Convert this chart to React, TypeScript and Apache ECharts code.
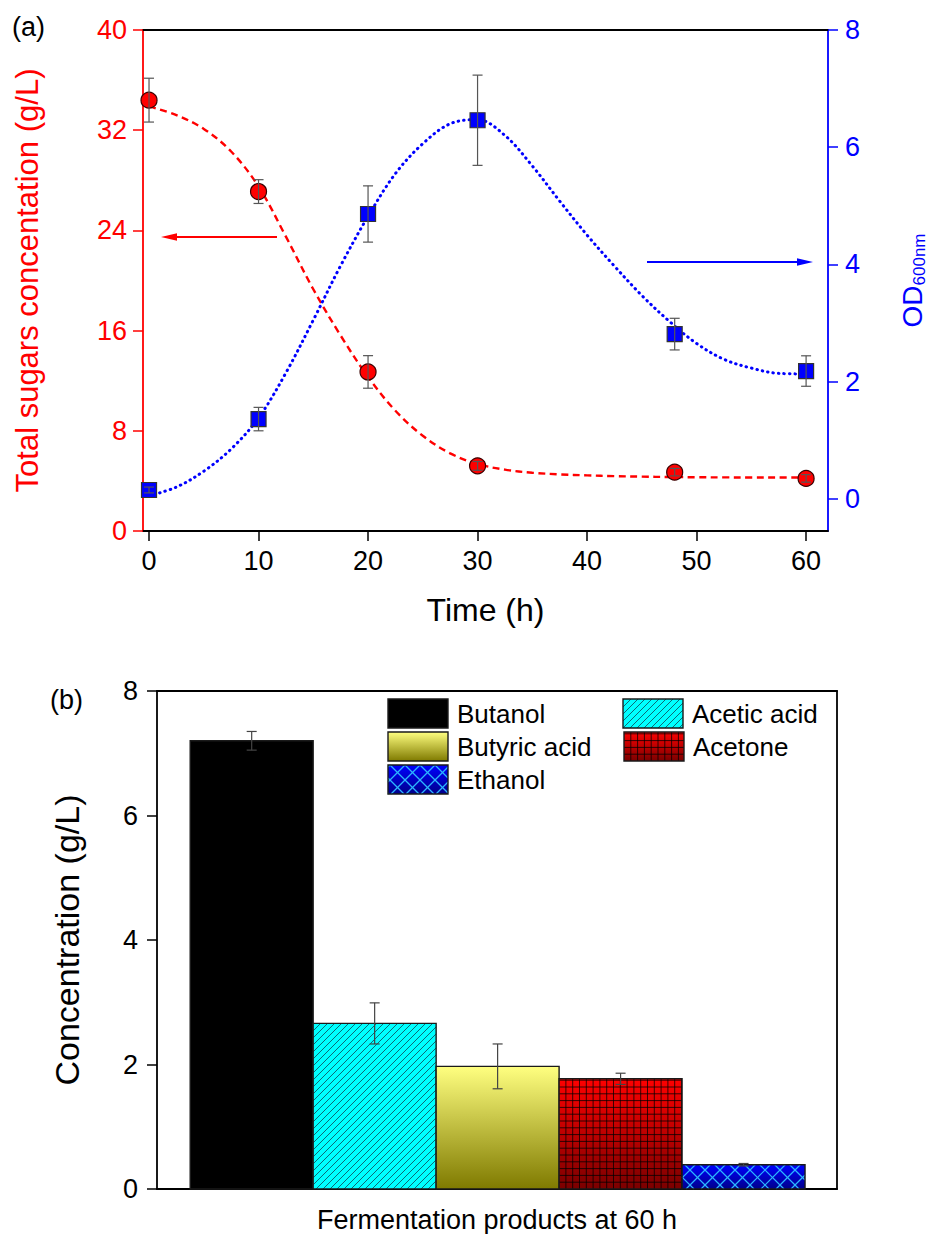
import React, { useEffect, useRef } from "react";
import * as echarts from "echarts";

const FONT = "'Liberation Sans', Arial, Helvetica, sans-serif";
const RED = "#ff0000";
const BLUE = "#0000ff";

// Panel (a): fermentation time course
const timeHours = [0, 10, 20, 30, 48, 60];
const sugarConc = [34.4, 27.1, 12.7, 5.2, 4.7, 4.2];
const sugarErr = [1.75, 0.95, 1.3, 0.35, 0.3, 0.3];
const od600 = [0.15, 1.36, 4.86, 6.46, 2.81, 2.18];
const odErr = [0.05, 0.2, 0.48, 0.77, 0.27, 0.26];

// Fitted trend lines for panel (a)
const fitTime = [0, 2.5, 5, 7.5, 10, 12.5, 15, 17.5, 20, 22.5, 25, 27.5, 30, 32.5, 35, 37.5, 40, 42.5, 45, 47.5, 50, 52.5, 55, 57.5, 60];
const sugarFit = [33.9, 33.2, 32.1, 30.3, 27.5, 23.5, 19.3, 15.6, 12.3, 9.6, 7.6, 6.2, 5.35, 4.9, 4.65, 4.52, 4.44, 4.38, 4.34, 4.31, 4.29, 4.28, 4.27, 4.27, 4.27];
const odFit = [0.05, 0.2, 0.47, 0.85, 1.38, 2.15, 3.05, 3.98, 4.82, 5.55, 6.06, 6.4, 6.47, 6.2, 5.68, 5.08, 4.5, 3.97, 3.47, 3.03, 2.65, 2.38, 2.23, 2.14, 2.13];

// Axis ticks for panel (a)
const timeTicks = [0, 10, 20, 30, 40, 50, 60];
const odTicks = [0, 2, 4, 6, 8];

// Panel (b): products at 60 h
const products = ["Butanol", "Acetic acid", "Butyric acid", "Acetone", "Ethanol"];
const productConc = [7.2, 2.66, 1.97, 1.77, 0.39];
const productErr = [0.15, 0.33, 0.36, 0.09, 0.02];

// Fill style per product (solid, hatched, gradient, gridded, cross-hatched)
const productFill: Record<string, string> = {
  Butanol: "solid",
  "Acetic acid": "hatch",
  "Butyric acid": "gradient",
  Acetone: "grid",
  Ethanol: "diamond",
};

// Legend placement: [column x, row y] for each product
const legendSlots: Record<string, [number, number]> = {
  Butanol: [388, 699],
  "Acetic acid": [623, 699],
  "Butyric acid": [388, 732],
  Acetone: [624, 732],
  Ethanol: [388, 765],
};

const vGrad = (c0: string, c1: string) => ({
  type: "linear",
  x: 0,
  y: 0,
  x2: 0,
  y2: 1,
  colorStops: [
    { offset: 0, color: c0 },
    { offset: 1, color: c1 },
  ],
});

const seg = (x1: number, y1: number, x2: number, y2: number, stroke: string, lw: number) => ({
  type: "line",
  silent: true,
  shape: { x1, y1, x2, y2 },
  style: { stroke, lineWidth: lw },
});

// Diagonal lines clipped to a rectangle; dir > 0 draws "/", dir < 0 draws "\"
function diagonals(x: number, y: number, w: number, h: number, step: number, dir: number, stroke: string, lw: number) {
  const out: any[] = [];
  const xr = x + w;
  const yb = y + h;
  if (dir > 0) {
    for (let c = Math.ceil((x + y) / step) * step; c <= xr + yb; c += step) {
      const lo = Math.max(x, c - yb);
      const hi = Math.min(xr, c - y);
      if (hi - lo > 0.5) out.push(seg(lo, c - lo, hi, c - hi, stroke, lw));
    }
  } else {
    for (let c = Math.ceil((x - yb) / step) * step; c <= xr - y; c += step) {
      const lo = Math.max(x, c + y);
      const hi = Math.min(xr, c + yb);
      if (hi - lo > 0.5) out.push(seg(lo, lo - c, hi, hi - c, stroke, lw));
    }
  }
  return out;
}

function filledBox(kind: string, x: number, y: number, w: number, h: number) {
  const els: any[] = [];
  const base = (fill: any) => ({ type: "rect", silent: true, shape: { x, y, width: w, height: h }, style: { fill } });
  if (kind === "solid") {
    els.push(base("#000000"));
  } else if (kind === "hatch") {
    els.push(base("#00ffff"));
    els.push(...diagonals(x, y, w, h, 7, 1, "#0b6b76", 1));
  } else if (kind === "gradient") {
    els.push(base(vGrad("#ffff80", "#7f7a00")));
  } else if (kind === "grid") {
    els.push(base(vGrad("#ff0000", "#7a0000")));
    const s = 6.8;
    for (let gx = x + s; gx < x + w - 0.5; gx += s) els.push(seg(gx, y, gx, y + h, "rgba(0,0,0,0.75)", 1));
    for (let gy = y + h - s; gy > y + 0.5; gy -= s) els.push(seg(x, gy, x + w, gy, "rgba(0,0,0,0.75)", 1));
  } else if (kind === "diamond") {
    els.push(base(vGrad("#0000ff", "#00008a")));
    els.push(...diagonals(x, y, w, h, 15, 1, "#2cb6ff", 1.2));
    els.push(...diagonals(x, y, w, h, 15, -1, "#2cb6ff", 1.2));
  }
  els.push({
    type: "rect",
    silent: true,
    shape: { x, y, width: w, height: h },
    style: { fill: "none", stroke: "#1a1a1a", lineWidth: 1.4 },
  });
  return els;
}

const errorBars = (cap: number, color: string) => (_params: any, api: any) => {
  const x = api.value(0);
  const v = api.value(1);
  const e = api.value(2);
  const top = api.coord([x, v + e]);
  const bot = api.coord([x, v - e]);
  const cx = top[0];
  return {
    type: "group",
    children: [
      seg(cx, top[1], cx, bot[1], color, 1.2),
      seg(cx - cap, top[1], cx + cap, top[1], color, 1.2),
      seg(cx - cap, bot[1], cx + cap, bot[1], color, 1.2),
    ],
  };
};

const arrow = (x1: number, x2: number, y: number, color: string) => {
  const dir = x2 > x1 ? 1 : -1;
  const headLen = 16;
  return [
    seg(x1, y, x2 - dir * headLen * 0.6, y, color, 2),
    {
      type: "polygon",
      silent: true,
      shape: {
        points: [
          [x2, y],
          [x2 - dir * headLen, y - 3.8],
          [x2 - dir * headLen, y + 3.8],
        ],
      },
      style: { fill: color },
    },
  ];
};

const legendElements = () => {
  const els: any[] = [];
  products.forEach((p) => {
    const [lx, ly] = legendSlots[p];
    els.push(...filledBox(productFill[p], lx, ly, 60, 29));
    els.push({
      type: "text",
      silent: true,
      x: lx + 69,
      y: ly + 15,
      style: { text: p, fontSize: 26, fontFamily: FONT, fill: "#000", verticalAlign: "middle", align: "left" },
    });
  });
  return els;
};

const axisLine = (color: string) => ({ show: true, onZero: false, lineStyle: { color, width: 1.8 } });
const hidden = { show: false };
const TICK_FONT = 27;

const option: any = {
  animation: false,
  textStyle: { fontFamily: FONT },
  grid: [
    { left: 143, top: 30, width: 685, height: 501 },
    { left: 157, top: 691, width: 680, height: 501 },
  ],
  xAxis: [
    {
      gridIndex: 0,
      type: "value",
      min: -0.55,
      max: 62,
      position: "bottom",
      axisLine: axisLine("#000"),
      axisTick: { show: true, customValues: timeTicks, length: 10, lineStyle: { color: "#000", width: 1.5 } },
      axisLabel: { customValues: timeTicks, fontSize: TICK_FONT, color: "#000", margin: 16, fontFamily: FONT },
      splitLine: hidden,
      name: "Time (h)",
      nameLocation: "middle",
      nameGap: 63,
      nameTextStyle: { fontSize: 32, color: "#000", fontFamily: FONT },
    },
    {
      gridIndex: 0,
      type: "value",
      min: -0.55,
      max: 62,
      position: "top",
      axisLine: axisLine("#000"),
      axisTick: hidden,
      axisLabel: hidden,
      splitLine: hidden,
    },
    {
      gridIndex: 1,
      type: "value",
      min: -0.27,
      max: 5.26,
      position: "bottom",
      axisLine: axisLine("#000"),
      axisTick: hidden,
      axisLabel: hidden,
      splitLine: hidden,
      name: "Fermentation products at 60 h",
      nameLocation: "middle",
      nameGap: 17,
      nameTextStyle: { fontSize: 27, color: "#000", fontFamily: FONT },
    },
    {
      gridIndex: 1,
      type: "value",
      min: -0.27,
      max: 5.26,
      position: "top",
      axisLine: axisLine("#000"),
      axisTick: hidden,
      axisLabel: hidden,
      splitLine: hidden,
    },
  ],
  yAxis: [
    {
      gridIndex: 0,
      type: "value",
      position: "left",
      min: 0,
      max: 40,
      interval: 8,
      axisLine: axisLine(RED),
      axisTick: { show: true, length: 10, lineStyle: { color: RED, width: 1.5 } },
      axisLabel: { fontSize: TICK_FONT, color: RED, margin: 16, fontFamily: FONT },
      splitLine: hidden,
      name: "Total sugars concentation (g/L)",
      nameLocation: "middle",
      nameGap: 100,
      nameTextStyle: { fontSize: 31, color: RED, fontFamily: FONT },
    },
    {
      gridIndex: 0,
      type: "value",
      position: "right",
      min: -0.55,
      max: 8,
      axisLine: axisLine(BLUE),
      axisTick: { show: true, customValues: odTicks, length: 10, lineStyle: { color: BLUE, width: 1.5 } },
      axisLabel: { customValues: odTicks, fontSize: TICK_FONT, color: BLUE, margin: 17, fontFamily: FONT },
      splitLine: hidden,
      name: "{od|OD}{sub|600nm}",
      nameLocation: "middle",
      nameGap: 70,
      nameTextStyle: {
        color: BLUE,
        fontFamily: FONT,
        rich: {
          od: { fontSize: 28, color: BLUE, fontFamily: FONT, lineHeight: 30, verticalAlign: "top" },
          sub: { fontSize: 17, color: BLUE, fontFamily: FONT, lineHeight: 17, padding: [19, 0, 0, 0], verticalAlign: "bottom" },
        },
      },
    },
    {
      gridIndex: 1,
      type: "value",
      position: "left",
      min: 0,
      max: 8,
      interval: 2,
      axisLine: axisLine("#000"),
      axisTick: { show: true, length: 10, lineStyle: { color: "#000", width: 1.5 } },
      axisLabel: { fontSize: TICK_FONT, color: "#000", margin: 19, fontFamily: FONT },
      splitLine: hidden,
      name: "Concentration (g/L)",
      nameLocation: "middle",
      nameGap: 73,
      nameTextStyle: { fontSize: 34, color: "#000", fontFamily: FONT },
    },
    {
      gridIndex: 1,
      type: "value",
      position: "right",
      min: 0,
      max: 8,
      axisLine: axisLine("#000"),
      axisTick: hidden,
      axisLabel: hidden,
      splitLine: hidden,
    },
  ],
  series: [
    {
      type: "line",
      name: "Total sugars fit",
      xAxisIndex: 0,
      yAxisIndex: 0,
      data: fitTime.map((t, i) => [t, sugarFit[i]]),
      showSymbol: false,
      smooth: 0.35,
      lineStyle: { color: RED, width: 2.4, type: [7, 4.5] },
      z: 2,
    },
    {
      type: "line",
      name: "OD fit",
      xAxisIndex: 0,
      yAxisIndex: 1,
      data: fitTime.map((t, i) => [t, odFit[i]]),
      showSymbol: false,
      smooth: 0.35,
      lineStyle: { color: BLUE, width: 3, type: [0.5, 5], cap: "round" },
      z: 2,
    },
    {
      type: "scatter",
      name: "Total sugars",
      xAxisIndex: 0,
      yAxisIndex: 0,
      data: timeHours.map((t, i) => [t, sugarConc[i]]),
      symbol: "circle",
      symbolSize: 16,
      itemStyle: { color: RED, borderColor: "#3a0000", borderWidth: 1.2, opacity: 1 },
      z: 3,
    },
    {
      type: "scatter",
      name: "OD600",
      xAxisIndex: 0,
      yAxisIndex: 1,
      data: timeHours.map((t, i) => [t, od600[i]]),
      symbol: "rect",
      symbolSize: 15,
      itemStyle: { color: BLUE, borderColor: "#333", borderWidth: 1.2, opacity: 1 },
      z: 3,
    },
    {
      type: "custom",
      name: "Total sugars error",
      xAxisIndex: 0,
      yAxisIndex: 0,
      data: timeHours.map((t, i) => [t, sugarConc[i], sugarErr[i]]),
      renderItem: errorBars(5, "#555"),
      z: 4,
    },
    {
      type: "custom",
      name: "OD600 error",
      xAxisIndex: 0,
      yAxisIndex: 1,
      data: timeHours.map((t, i) => [t, od600[i], odErr[i]]),
      renderItem: errorBars(5, "#555"),
      z: 4,
    },
    {
      type: "custom",
      name: "Products",
      xAxisIndex: 2,
      yAxisIndex: 2,
      data: products.map((_, i) => [i, productConc[i]]),
      renderItem: (params: any, api: any) => {
        const i = api.value(0);
        const v = api.value(1);
        const p0 = api.coord([i, v]);
        const p1 = api.coord([i + 1, 0]);
        return {
          type: "group",
          children: filledBox(productFill[products[params.dataIndex]], p0[0], p0[1], p1[0] - p0[0], p1[1] - p0[1]),
        };
      },
      z: 2,
    },
    {
      type: "custom",
      name: "Products error",
      xAxisIndex: 2,
      yAxisIndex: 2,
      data: products.map((_, i) => [i + 0.5, productConc[i], productErr[i]]),
      renderItem: errorBars(5, "#444"),
      z: 4,
    },
  ],
  graphic: [
    { type: "text", left: 12, top: 13, style: { text: "(a)", fontSize: 27, fontFamily: FONT, fill: "#000" } },
    { type: "text", left: 50, top: 686, style: { text: "(b)", fontSize: 27, fontFamily: FONT, fill: "#000" } },
    ...arrow(277, 161, 237, RED),
    ...arrow(647, 813, 262, BLUE),
    ...legendElements(),
  ],
};

export default function App() {
  const ref = useRef<HTMLDivElement>(null);
  useEffect(() => {
    document.body.style.margin = "0";
    const chart = echarts.init(ref.current!, null, { renderer: "svg" });
    chart.setOption(option);
    return () => chart.dispose();
  }, []);
  return <div ref={ref} style={{ width: 937, height: 1234 }} />;
}
